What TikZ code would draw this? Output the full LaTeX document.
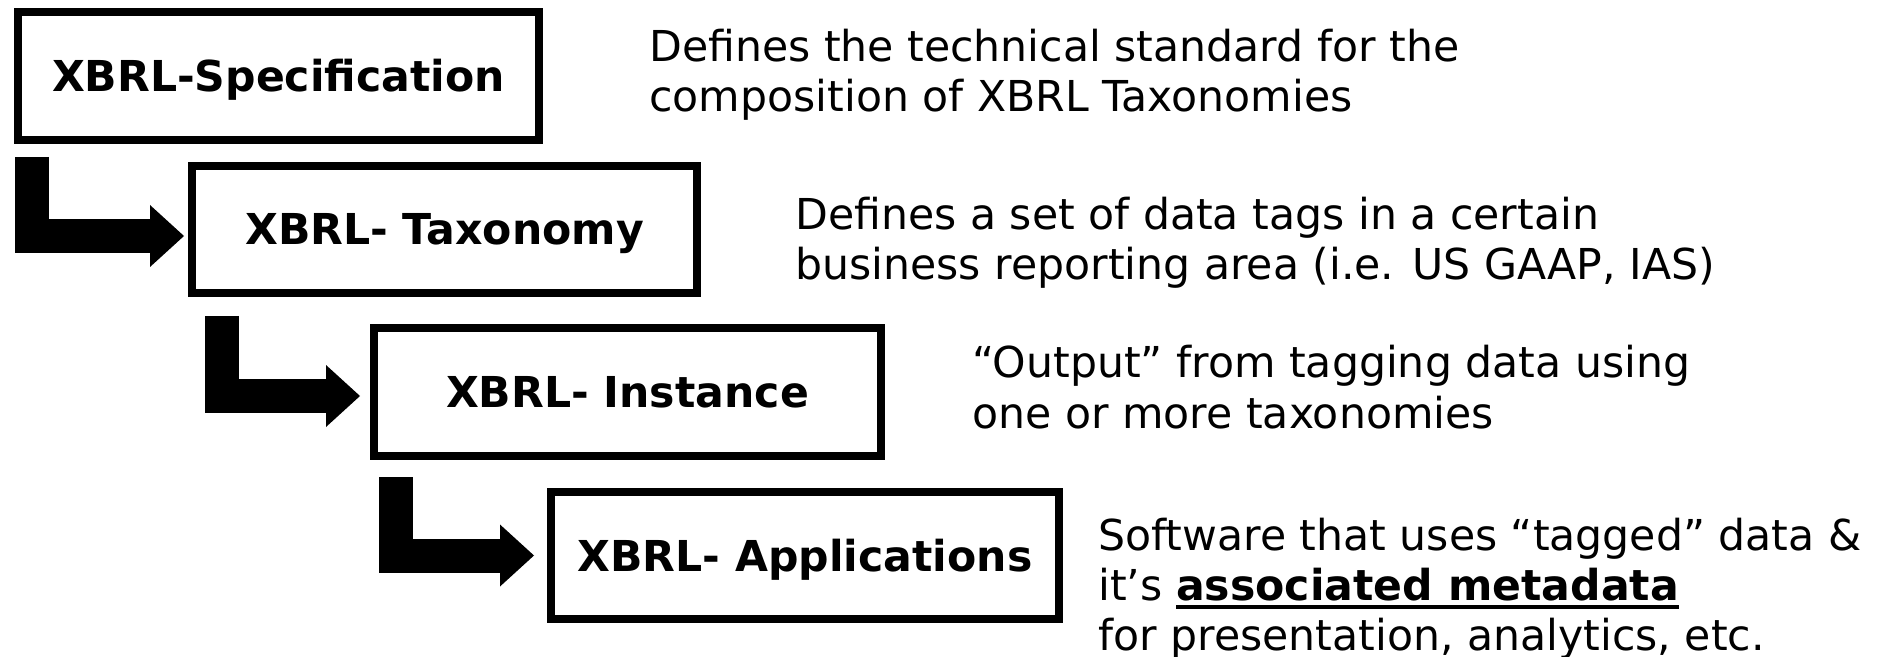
\documentclass[tikz,border=0pt]{standalone}
\usepackage{fontspec}
\setmainfont{DejaVu Sans}
\usetikzlibrary{arrows.meta}
\newcommand\myul[1]{\setbox0\hbox{#1}\rlap{\rule[-4.35pt]{\wd0}{2pt}}\box0}
\begin{document}
\begin{tikzpicture}[x=0.5pt,y=-0.5pt,
  stagebox/.style={draw=black, line width=4pt, fill=white, font=\fontsize{21.3pt}{25pt}\selectfont\bfseries,
    text height=15.5pt, text depth=0pt, inner sep=0pt},
  desc/.style={anchor=base west, align=left, inner sep=0pt, font=\fontsize{21.3pt}{25pt}\selectfont},
  blockarrow/.style={draw=black, line width=17pt, line join=miter, line cap=butt,
    -{Triangle[length=17pt,width=31pt,line width=0pt]}}
]
\useasboundingbox (0,0) rectangle (1877,657);
\node[stagebox, minimum width=260.5pt, minimum height=64pt] (b1) at (278.5,76) {XBRL-Specification};
\node[stagebox, minimum width=252.5pt, minimum height=63.5pt] (b2) at (444.5,229.5) {XBRL- Taxonomy};
\node[stagebox, minimum width=253.5pt, minimum height=64pt] (b3) at (627.5,392) {XBRL- Instance};
\node[stagebox, minimum width=254pt, minimum height=63.5pt] (b4) at (805,555.5) {XBRL- Applications};

% anchor base = baseline of the last line
\node[desc] (t1) at (649,112) {Defines the technical standard for the\\composition of XBRL Taxonomies};
\node[desc] (t2) at (795,280) {Defines a set of data tags in a certain\\business reporting area (i.e. US GAAP, IAS)};
\node[desc] (t3) at (972,428) {“Output” from tagging data using\\one or more taxonomies};
\node[desc] (t4) at (1098,650) {Software that uses “tagged” data \&\\it’s \myul{\bfseries associated metadata}\\for presentation, analytics, etc.};

\coordinate (s1) at (31.5,157);
\coordinate (s2) at (222,316);
\coordinate (s3) at (395.5,477);
\draw[blockarrow, shorten >=2pt] (s1) |- ([yshift=-3.25pt]b2.west);
\draw[blockarrow, shorten >=5pt] (s2) |- ([yshift=-2pt]b3.west);
\draw[blockarrow, shorten >=6.5pt] (s3) |- (b4.west);
\end{tikzpicture}
\end{document}
